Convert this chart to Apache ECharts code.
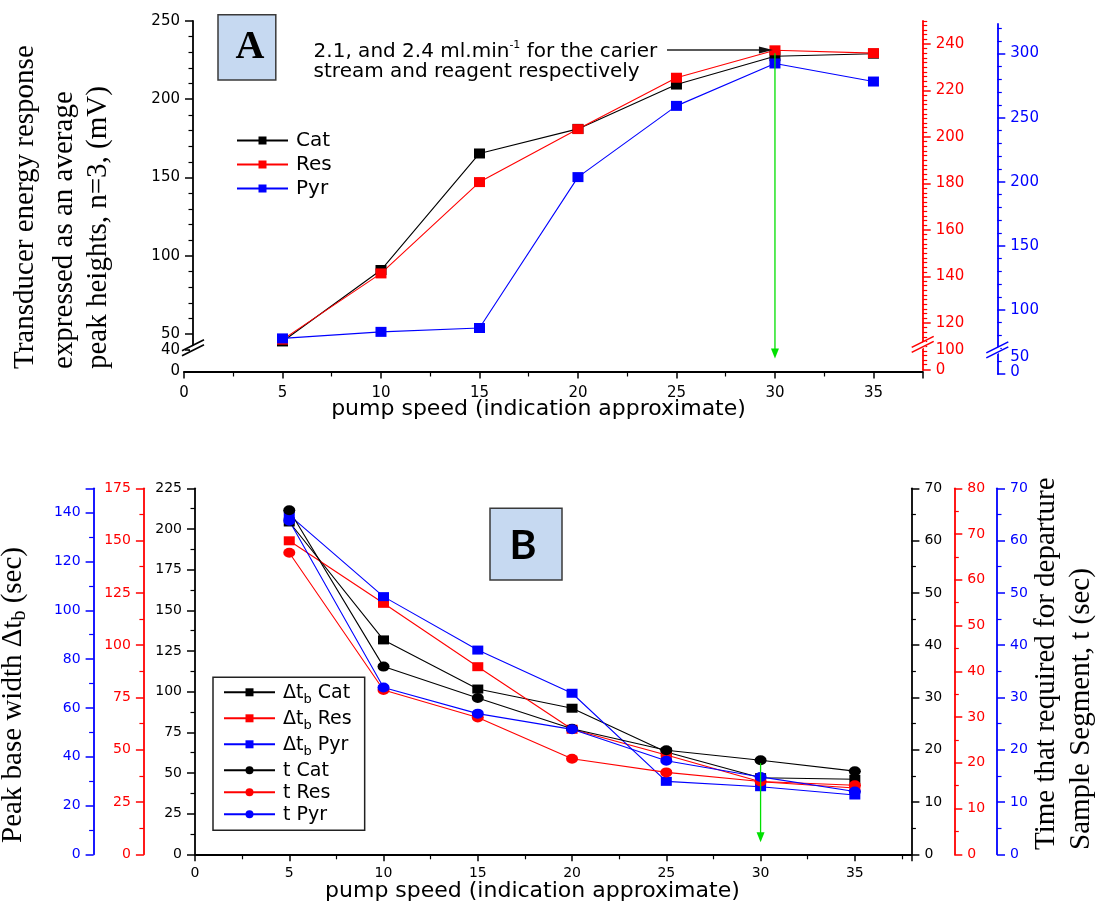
<!DOCTYPE html>
<html><head><meta charset="utf-8">
<script src="https://cdn.jsdelivr.net/npm/echarts@6/dist/echarts.min.js"></script>
<style>html,body{margin:0;padding:0;background:#fff}#c{width:1103px;height:901px}</style>
</head><body><div id="c"></div>
<script>
// ---------- data ----------
const pumpSpeed = [5, 10, 15, 20, 25, 30, 35];
// Panel A (Cat on left axis, Res on red axis, Pyr on blue axis)
const catA = [45.3, 90.9, 165.3, 181.0, 209.3, 227.4, 229.0];
const resA = [112.8, 141.3, 180.6, 203.4, 225.5, 237.3, 236.1];
const pyrA = [77.7, 82.8, 85.8, 203.6, 259.2, 292.3, 278.2];
// Panel B  (Δt_b on left axes, t on right axes)
const dtCat = [204.3, 131.8, 101.6, 89.8, 62.9, 47.1, 46.1];
const dtRes = [149.9, 120.0, 89.7, 59.8, 47.5, 34.7, 31.7];
const dtPyr = [139.0, 105.6, 83.7, 66.0, 29.9, 27.7, 24.3];
const tCat = [65.8, 35.9, 29.9, 24.0, 19.9, 18.0, 15.9];
const tRes = [65.9, 35.9, 29.9, 20.9, 17.9, 15.9, 15.1];
const tPyr = [63.8, 31.9, 26.9, 23.9, 17.9, 14.8, 12.0];

// tick labels of the broken axes in panel A
const leftTicksA = [0, 40, 50, 100, 150, 200, 250];
const redTicksA = [100, 120, 140, 160, 180, 200, 220, 240];
const blueTicksA = [50, 100, 150, 200, 250, 300];
const belowBreakTicks = [0];

const namesA = ['Cat', 'Res', 'Pyr'];
const namesB = ['Δt_b Cat', 'Δt_b Res', 'Δt_b Pyr', 't Cat', 't Res', 't Pyr'];
const xTitle = 'pump speed (indication approximate)';

// ---------- helpers ----------
const BLACK = '#000000', RED = '#ff0000', BLUE = '#0000ff';
const SANS = 'DejaVu Sans', SERIF = 'Liberation Serif';
function pair(xs, ys) { return xs.map((x, i) => [x, ys[i]]); }
function minorVals(a, b, step, majorStep) {
  const out = [];
  for (let v = a; v <= b + 1e-9; v += step) {
    const r = Math.round(v * 100) / 100;
    if (Math.abs(r / majorStep - Math.round(r / majorStep)) > 1e-6) out.push(r);
  }
  return out;
}
function liftFormatter(lift) {
  return function (v) { return lift[v] ? '{u' + v + '|' + v + '}' : String(v); };
}
function liftRich(lift, c, fs) {
  const rich = {};
  Object.keys(lift).forEach(function (k) {
    rich['u' + k] = { color: c, fontFamily: SANS, fontSize: fs, lineHeight: fs, padding: [0, 0, lift[k] * 2, 0] };
  });
  return rich;
}

function yAx(o) {
  const c = o.color;
  const ax = {
    type: 'value', gridIndex: o.grid, position: o.pos, offset: o.offset || 0,
    min: o.min, max: o.max, interval: o.interval,
    axisLine: { show: true, onZero: false, lineStyle: { color: c, width: 1.8 } },
    axisTick: { show: true, inside: false, length: 8, lineStyle: { color: c, width: 1.5 } },
    minorTick: { show: true, splitNumber: o.minor, length: 4.5, lineStyle: { color: c, width: 1.2 } },
    splitLine: { show: false },
    axisLabel: { color: c, fontFamily: SANS, fontSize: o.fs, lineHeight: o.fs, margin: o.margin || 13,
                 showMaxLabel: o.showMax !== false, hideOverlap: false }
  };
  if (o.breaks) {
    ax.breaks = o.breaks;
    ax.breakArea = { show: false };
    ax.breakLabelLayout = { moveOverlap: false };
    ax.minorTick = { show: false };
  }
  if (o.ticks) {
    ax.axisTick.customValues = o.ticks;
    ax.axisLabel.customValues = o.ticks;
  }
  if (o.lift) {
    ax.axisLabel.formatter = liftFormatter(o.lift);
    ax.axisLabel.rich = liftRich(o.lift, c, o.fs);
  }
  return ax;
}
// companion axis: short minor ticks (and the label below the break) of a broken axis
function minorAx(base, vals, labelVals, lift) {
  const c = base.axisLine.lineStyle.color;
  const ax = {
    type: 'value', gridIndex: base.gridIndex, position: base.position, offset: base.offset,
    min: base.min, max: base.max, breaks: base.breaks, breakArea: { show: false },
    breakLabelLayout: { moveOverlap: false },
    axisLine: { show: false, onZero: false },
    axisTick: { show: true, length: 4.5, customValues: vals, lineStyle: { color: c, width: 1.2 } },
    axisLabel: { show: false }, splitLine: { show: false }
  };
  if (labelVals) {
    ax.axisLabel = { show: true, customValues: labelVals, color: c, fontFamily: SANS, fontSize: 15, lineHeight: 15,
                     margin: 13, hideOverlap: false, formatter: liftFormatter(lift || {}), rich: liftRich(lift || {}, c, 15) };
  }
  return ax;
}
function xAx(grid, max, fs, margin, hidden) {
  return {
    type: 'value', gridIndex: grid, min: 0, max: max, interval: 5, show: !hidden,
    axisLine: { onZero: false, lineStyle: { color: BLACK, width: 1.8 } },
    axisTick: { length: 7, lineStyle: { color: BLACK, width: 1.5 } },
    minorTick: { show: true, splitNumber: 2, length: 5, lineStyle: { color: BLACK, width: 1.2 } },
    splitLine: { show: false },
    axisLabel: { color: BLACK, fontFamily: SANS, fontSize: fs, margin: margin, showMaxLabel: false }
  };
}
function lineSeries(name, data, color, xi, yi, symbol, size) {
  return {
    name: name, type: 'line', xAxisIndex: xi, yAxisIndex: yi, data: data,
    symbol: symbol, symbolSize: size, showSymbol: true,
    lineStyle: { color: color, width: 1.1 },
    itemStyle: { color: color },
    emphasis: { disabled: true }, animation: false
  };
}

const yLeftA = yAx({ grid: 0, pos: 'left', offset: -9, min: 0, max: 250, interval: 50, color: BLACK, fs: 15,
  breaks: [{ start: 0, end: 40, gap: '6.2%' }], ticks: leftTicksA });
const yRedA = yAx({ grid: 0, pos: 'right', min: 0, max: 250, interval: 20, color: RED, fs: 15,
  breaks: [{ start: 0, end: 100, gap: '0.6%' }], ticks: redTicksA, lift: { 100: 19 } });
const yBlueA = yAx({ grid: 2, pos: 'right', offset: 74.6, min: 0, max: 323.5, interval: 50, color: BLUE, fs: 15,
  breaks: [{ start: 0, end: 50, gap: '0.6%' }], ticks: blueTicksA, lift: { 50: 17 } });

const option = {
  animation: false,
  backgroundColor: '#ffffff',
  grid: [
    { left: 184, right: 180.3, top: 20.8, bottom: 529.5 },
    { left: 195, right: 191.6, top: 488.3, bottom: 46.7 },
    { left: 184, right: 180.3, top: 23.5, bottom: 525 }
  ],
  xAxis: [xAx(0, 37.5, 15, 14), xAx(1, 38, 14, 12), xAx(2, 37.5, 15, 14, true)],
  yAxis: [
    yLeftA, yRedA, yBlueA,
    yAx({ grid: 1, pos: 'left', min: 0, max: 225, interval: 25, minor: 2, color: BLACK, fs: 14 }),
    yAx({ grid: 1, pos: 'left', offset: 51.1, min: 0, max: 175, interval: 25, minor: 2, color: RED, fs: 14 }),
    yAx({ grid: 1, pos: 'left', offset: 101.4, min: 0, max: 150, interval: 20, minor: 2, color: BLUE, fs: 14, showMax: false }),
    yAx({ grid: 1, pos: 'right', min: 0, max: 70, interval: 10, minor: 2, color: BLACK, fs: 14 }),
    yAx({ grid: 1, pos: 'right', offset: 42.9, min: 0, max: 80, interval: 10, minor: 2, color: RED, fs: 14 }),
    yAx({ grid: 1, pos: 'right', offset: 85.6, min: 0, max: 70, interval: 10, minor: 2, color: BLUE, fs: 14 }),
    minorAx(yLeftA, minorVals(40, 250, 10, 50)),
    minorAx(yRedA, minorVals(100, 250, 2, 20), belowBreakTicks, { 0: 1 }),
    minorAx(yBlueA, minorVals(50, 320, 10, 50), belowBreakTicks, { 0: 4 })
  ],
  legend: [
    {
      data: namesA, orient: 'vertical', left: 236, top: 130.5, itemWidth: 51, itemHeight: 10, itemGap: 4,
      padding: 0,
      textStyle: { fontFamily: SANS, fontSize: 20, color: BLACK, lineHeight: 18, padding: [0, 0, 0, 3] }
    },
    {
      data: namesB, orient: 'vertical', left: 213, top: 677.3, itemWidth: 51, itemHeight: 10, itemGap: 3,
      padding: [6, 13, 6, 10], borderColor: '#222', borderWidth: 1.5,
      formatter: function (n) {
        if (n.indexOf('Δt_b') === 0) return '{m|Δt}{s|b}{m|' + n.slice(4) + '}';
        return '{m|' + n + '}';
      },
      textStyle: {
        fontFamily: SANS, fontSize: 19, color: BLACK, padding: [0, 0, 0, 3],
        rich: {
          m: { fontFamily: SANS, fontSize: 19, lineHeight: 18, verticalAlign: 'top', color: BLACK },
          s: { fontFamily: SANS, fontSize: 13, lineHeight: 12, padding: [10, 0, 0, 0], verticalAlign: 'top', color: BLACK }
        }
      }
    }
  ],
  series: [
    lineSeries('Cat', pair(pumpSpeed, catA), BLACK, 0, 0, 'rect', [11, 10]),
    lineSeries('Res', pair(pumpSpeed, resA), RED, 0, 1, 'rect', [11, 10]),
    lineSeries('Pyr', pair(pumpSpeed, pyrA), BLUE, 2, 2, 'rect', [11, 10]),
    lineSeries('Δt_b Cat', pair(pumpSpeed, dtCat), BLACK, 1, 3, 'rect', [11, 9]),
    lineSeries('Δt_b Res', pair(pumpSpeed, dtRes), RED, 1, 4, 'rect', [11, 9]),
    lineSeries('Δt_b Pyr', pair(pumpSpeed, dtPyr), BLUE, 1, 5, 'rect', [11, 9]),
    lineSeries('t Cat', pair(pumpSpeed, tCat), BLACK, 1, 6, 'circle', [12, 10]),
    lineSeries('t Res', pair(pumpSpeed, tRes), RED, 1, 7, 'circle', [12, 10]),
    lineSeries('t Pyr', pair(pumpSpeed, tPyr), BLUE, 1, 8, 'circle', [12, 10])
  ]
};

const chart = echarts.init(document.getElementById('c'), null, { renderer: 'canvas' });
chart.setOption(option);

// ---------- annotations (positions derived from the chart's own scales) ----------
const pA30 = chart.convertToPixel({ seriesIndex: 1 }, [30, resA[5]]);
const pA30c = chart.convertToPixel({ seriesIndex: 0 }, [30, catA[5]]);
const aBottom = chart.convertToPixel({ seriesIndex: 0 }, [30, 0]);
const pB30 = chart.convertToPixel({ seriesIndex: 6 }, [30, tCat[5]]);
const bBottom = chart.convertToPixel({ seriesIndex: 3 }, [30, 0]);
// axis-break locations
const brkL = chart.convertToPixel({ seriesIndex: 0 }, [0, 40]);
const brkR = chart.convertToPixel({ seriesIndex: 1 }, [37.5, 100]);
const brkB = chart.convertToPixel({ seriesIndex: 2 }, [37.5, 50]);
const GREEN = '#00e000';

function arrowDown(x, y1, y2, color) {
  return [
    { type: 'line', shape: { x1: x, y1: y1, x2: x, y2: y2 - 8 }, style: { stroke: color, lineWidth: 1.3 }, z: 50 },
    { type: 'polygon', shape: { points: [[x - 4, y2 - 10], [x + 4, y2 - 10], [x, y2]] }, style: { fill: color }, z: 50 }
  ];
}
function breakMark(x, y, color) {
  return [
    { type: 'polygon', shape: { points: [[x - 3, y + 3], [x + 3, y - 1], [x + 3, y - 7], [x - 3, y - 3]] }, style: { fill: '#fff' }, z: 70 },
    { type: 'line', shape: { x1: x - 11, y1: y + 5, x2: x + 11, y2: y - 6 }, style: { stroke: color, lineWidth: 1.6 }, z: 71 },
    { type: 'line', shape: { x1: x - 11, y1: y + 0, x2: x + 11, y2: y - 11 }, style: { stroke: color, lineWidth: 1.6 }, z: 71 }
  ];
}
function vtext(x, y, rich, text, size) {
  return { type: 'text', x: x, y: y, rotation: Math.PI / 2, z: 60,
    style: { text: text, fontFamily: SERIF, fontSize: size, fill: '#000', align: 'left', verticalAlign: 'middle', rich: rich } };
}
const serifRich = {
  n: { fontFamily: SERIF, fontSize: 29, fill: '#000' },
  s: { fontFamily: SERIF, fontSize: 20, fill: '#000', padding: [14, 0, 0, 0] }
};

const graphics = [
  // panel labels
  { type: 'rect', shape: { x: 218, y: 14.8, width: 57.8, height: 65.1 }, style: { fill: '#c6d9f1', stroke: '#3a3a3a', lineWidth: 1.5 }, z: 40 },
  { type: 'text', x: 250, y: 48, z: 41, style: { text: 'A', fontFamily: SERIF, fontWeight: 'bold', fontSize: 40, fill: '#000', align: 'center', verticalAlign: 'middle' } },
  { type: 'rect', shape: { x: 490, y: 508.3, width: 72, height: 71.7 }, style: { fill: '#c6d9f1', stroke: '#3a3a3a', lineWidth: 1.5 }, z: 40 },
  { type: 'text', x: 523, y: 546, z: 41, style: { text: 'B', fontFamily: 'Lato', fontWeight: 'bold', fontSize: 41, fill: '#000', align: 'center', verticalAlign: 'middle' } },
  // annotation text A
  { type: 'text', x: 313.6, y: 50.3, z: 60, style: {
      text: '{a|2.1, and 2.4 ml.min}{p|-1}{a| for the carier}', verticalAlign: 'middle', align: 'left',
      rich: { a: { fontFamily: SANS, fontSize: 20, lineHeight: 22, fill: '#000', verticalAlign: 'bottom' },
              p: { fontFamily: SANS, fontSize: 11, lineHeight: 22, fill: '#000', verticalAlign: 'top', padding: [0, 0, 10, 0] } } } },
  { type: 'text', x: 313.6, y: 71.5, z: 60, style: { text: 'stream and reagent respectively', fontFamily: SANS, fontSize: 20, fill: '#000', verticalAlign: 'middle', align: 'left' } },
  // black arrow
  { type: 'line', shape: { x1: 667, y1: 50, x2: pA30[0] - 14, y2: 50 }, style: { stroke: '#222', lineWidth: 1.4 }, z: 55 },
  { type: 'polygon', shape: { points: [[pA30[0] - 16, 46.5], [pA30[0] - 16, 53.5], [pA30[0] - 2, 50]] }, style: { fill: '#111' }, z: 55 },
  // axis titles
  vtext(25.7, 369, null, 'Transducer energy response', 29),
  vtext(64.3, 369, null, 'expressed as an average', 29),
  vtext(98.2, 369, null, 'peak heights, n=3, (mV)', 29),
  vtext(13, 843, serifRich, '{n|Peak base width Δt}{s|b}{n| (sec)}', 29),
  vtext(1046, 850, null, 'Time that required for departure', 29),
  vtext(1081.5, 850, null, 'Sample Segment, t (sec)', 29),
  { type: 'text', x: 538.5, y: 409.4, z: 60, style: { text: xTitle, fontFamily: SANS, fontSize: 22, fill: '#000', align: 'center', verticalAlign: 'middle' } },
  { type: 'text', x: 532.4, y: 891.7, z: 60, style: { text: xTitle, fontFamily: SANS, fontSize: 22, fill: '#000', align: 'center', verticalAlign: 'middle' } }
].concat(arrowDown(pA30c[0], pA30[1] + 3, aBottom[1] - 13, GREEN))
 .concat(arrowDown(pB30[0], pB30[1] + 3, bBottom[1] - 12, GREEN))
 .concat(breakMark(193, brkL[1] + 1, BLACK))
 .concat(breakMark(brkR[0], brkR[1] - 22, RED))
 .concat(breakMark(brkB[0] + 74.6, brkB[1] - 21, BLUE));

chart.setOption({ graphic: graphics });
</script>
</body></html>
